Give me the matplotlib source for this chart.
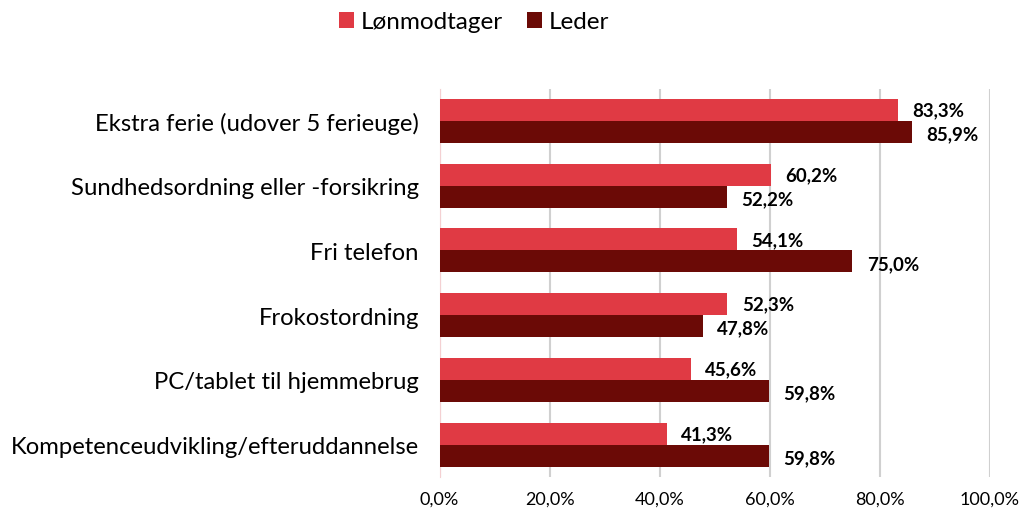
import numpy as np
import matplotlib.pyplot as plt

plt.rcParams['font.family'] = ['Lato', 'DejaVu Sans']

categories = ['Ekstra ferie (udover 5 ferieuge)', 'Sundhedsordning eller -forsikring',
              'Fri telefon', 'Frokostordning', 'PC/tablet til hjemmebrug',
              'Kompetenceudvikling/efteruddannelse']
lonmodtager = [83.3, 60.2, 54.1, 52.3, 45.6, 41.3]
leder = [85.9, 52.2, 75.0, 47.8, 59.8, 59.8]
xticks = [0, 20, 40, 60, 80, 100]

fig = plt.figure(figsize=(10.2, 5.1), dpi=100)
ax = fig.add_axes([0.431, 0.063, 0.5395, 0.761])

y = np.arange(len(categories))
h = 0.34
c1 = '#E03A44'
c2 = '#6B0A06'
b1 = ax.barh(y - h / 2, lonmodtager, height=h, color=c1, label='Lønmodtager', zorder=3)
b2 = ax.barh(y + h / 2, leder, height=h, color=c2, label='Leder', zorder=3)

def fmt(v):
    return f'{v:.1f}%'.replace('.', ',')

for yy, v in zip(y, lonmodtager):
    ax.text(v + 2.6, yy - h / 2, fmt(v), va='center', ha='left',
            fontsize=13.5, fontweight='bold', color='black')
for yy, v in zip(y, leder):
    ax.text(v + 2.6, yy + h / 2 + 0.03, fmt(v), va='center', ha='left',
            fontsize=13.5, fontweight='bold', color='black')

ax.set_xlim(0, 100)
ax.set_ylim(len(categories) - 0.5, -0.5)
ax.set_xticks(xticks)
ax.set_xticklabels([fmt(t) for t in xticks], fontsize=13)
ax.set_yticks(y)
ax.set_yticklabels(categories, fontsize=17.2)
ax.tick_params(axis='x', length=0, pad=10)
ax.tick_params(axis='y', length=0, pad=15)
ax.grid(axis='x', color='#D0D0D0', linewidth=1.5, zorder=0)
for s in ['top', 'right', 'bottom']:
    ax.spines[s].set_visible(False)
ax.spines['left'].set_color('#F4D0D2')

fig.legend(handles=[b1, b2], loc='center', bbox_to_anchor=(0.465, 0.955), ncol=2,
           frameon=False, fontsize=17.5, handlelength=0.6, handleheight=0.6,
           handletextpad=0.3, columnspacing=1.0)

fig.savefig('out.png', dpi=100)
